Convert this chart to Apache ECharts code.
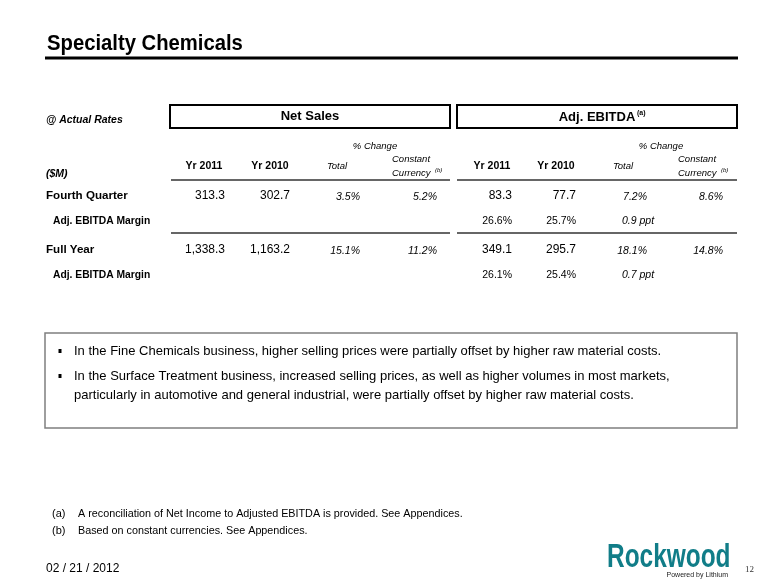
<!DOCTYPE html>
<html>
<head>
<meta charset="utf-8">
<script src="https://cdn.jsdelivr.net/npm/echarts@6/dist/echarts.min.js"></script>
<style>
  html, body { margin: 0; padding: 0; background: #fff; }
  #main { width: 780px; height: 585px; }
</style>
</head>
<body>
<div id="main"></div>
<script>
// table data
const rowLabels = ['Fourth Quarter', 'Adj. EBITDA Margin', 'Full Year', 'Adj. EBITDA Margin'];
const salesYr2011 = [313.3, 1338.3];
const salesYr2010 = [302.7, 1163.2];
const salesTotalPct = [3.5, 15.1];
const salesConstPct = [5.2, 11.2];
const ebitdaYr2011 = [83.3, 349.1];
const ebitdaYr2010 = [77.7, 295.7];
const ebitdaTotalPct = [7.2, 18.1];
const ebitdaConstPct = [8.6, 14.8];
const marginYr2011 = [26.6, 26.1];
const marginYr2010 = [25.7, 25.4];
const marginChangePpt = [0.9, 0.7];

const bullets = [
  ['In the Fine Chemicals business, higher selling prices were partially offset by higher raw material costs.'],
  ['In the Surface Treatment business, increased selling prices, as well as higher volumes in most markets,',
   'particularly in automotive and general industrial, were partially offset by higher raw material costs.']
];
const footnotes = [
  ['(a)', 'A reconciliation of Net Income to Adjusted EBITDA is provided. See Appendices.'],
  ['(b)', 'Based on constant currencies. See Appendices.']
];

const FF = '"Liberation Sans", Arial, sans-serif';
const fmt = v => v.toLocaleString('en-US', { minimumFractionDigits: 1, maximumFractionDigits: 1 });

function txt(x, y, text, font, align, color) {
  return {
    type: 'text', x: x, y: y, silent: true,
    style: {
      text: text, font: font, fill: color || '#000',
      align: align || 'left', textAlign: align || 'left',
      verticalAlign: 'middle', textVerticalAlign: 'middle'
    }
  };
}
function line(x1, y1, x2, y2, w, c) {
  return { type: 'line', silent: true, shape: { x1, y1, x2, y2 }, style: { stroke: c || '#000', lineWidth: w } };
}

const els = [];

// title
const title = txt(47, 44, 'Specialty Chemicals', 'bold 22.5px ' + FF);
title.scaleX = 0.9;
els.push(title);
els.push(line(45, 58, 738, 58, 3, '#000'));

// header boxes
els.push(txt(46, 120, '@ Actual Rates', 'italic bold 10.5px ' + FF));
els.push({ type: 'rect', shape: { x: 170, y: 105, width: 280, height: 23 }, style: { fill: 'none', stroke: '#000', lineWidth: 2 } });
els.push({ type: 'rect', shape: { x: 457, y: 105, width: 280, height: 23 }, style: { fill: 'none', stroke: '#000', lineWidth: 2 } });
els.push(txt(310, 116, 'Net Sales', 'bold 13px ' + FF, 'center'));
els.push(txt(597, 117, 'Adj. EBITDA', 'bold 13px ' + FF, 'center'));
els.push(txt(637, 113, '(a)', 'bold 7px ' + FF));

// column headers
const colSets = [
  { yr1: 204, yr2: 270, tot: 337, cc: 392, chg: 375, v1: 225, v2: 290, v3: 360, v4: 437, x0: 171, x1: 450 },
  { yr1: 492, yr2: 556, tot: 623, cc: 678, chg: 661, v1: 512, v2: 576, v3: 647, v4: 723, x0: 457, x1: 737 }
];
colSets.forEach(c => {
  els.push(txt(c.chg, 146, '% Change', 'italic 9.5px ' + FF, 'center'));
  els.push(txt(c.yr1, 166, 'Yr 2011', 'bold 10.5px ' + FF, 'center'));
  els.push(txt(c.yr2, 166, 'Yr 2010', 'bold 10.5px ' + FF, 'center'));
  els.push(txt(c.tot, 166, 'Total', 'italic 9.5px ' + FF, 'center'));
  els.push(txt(c.cc, 159, 'Constant', 'italic 9.5px ' + FF));
  els.push(txt(c.cc, 173, 'Currency', 'italic 9.5px ' + FF));
  els.push(txt(c.cc + 43, 170, '(b)', 'italic 6px ' + FF));
  els.push(line(c.x0, 180, c.x1, 180, 1.5, '#333'));
  els.push(line(c.x0, 233, c.x1, 233, 1.5, '#333'));
});
els.push(txt(46, 174, '($M)', 'italic bold 10.5px ' + FF));

// rows
const rowY = [196, 221, 250, 275];
rowLabels.forEach((lab, i) => {
  const main = i % 2 === 0;
  els.push(txt(main ? 46 : 53, rowY[i], lab, (main ? 'bold 11.6px ' : 'bold 10.3px ') + FF));
});
const S = colSets[0], E = colSets[1];
[0, 1].forEach(k => {
  const y = rowY[k * 2], ym = rowY[k * 2 + 1];
  els.push(txt(S.v1, y, fmt(salesYr2011[k]), '12px ' + FF, 'right'));
  els.push(txt(S.v2, y, fmt(salesYr2010[k]), '12px ' + FF, 'right'));
  els.push(txt(S.v3, y + 1, fmt(salesTotalPct[k]) + '%', 'italic 10.5px ' + FF, 'right'));
  els.push(txt(S.v4, y + 1, fmt(salesConstPct[k]) + '%', 'italic 10.5px ' + FF, 'right'));
  els.push(txt(E.v1, y, fmt(ebitdaYr2011[k]), '12px ' + FF, 'right'));
  els.push(txt(E.v2, y, fmt(ebitdaYr2010[k]), '12px ' + FF, 'right'));
  els.push(txt(E.v3, y + 1, fmt(ebitdaTotalPct[k]) + '%', 'italic 10.5px ' + FF, 'right'));
  els.push(txt(E.v4, y + 1, fmt(ebitdaConstPct[k]) + '%', 'italic 10.5px ' + FF, 'right'));
  els.push(txt(E.v1, ym, fmt(marginYr2011[k]) + '%', '10.5px ' + FF, 'right'));
  els.push(txt(E.v2, ym, fmt(marginYr2010[k]) + '%', '10.5px ' + FF, 'right'));
  els.push(txt(622, ym, fmt(marginChangePpt[k]) + ' ppt', 'italic 10.5px ' + FF));
});

// bullet box
els.push({ type: 'rect', shape: { x: 45, y: 333, width: 692, height: 95 }, style: { fill: 'none', stroke: '#7f7f7f', lineWidth: 1.5 } });
let by = 351;
bullets.forEach(b => {
  els.push({ type: 'rect', shape: { x: 58.5, y: by - 2, width: 3, height: 4 }, style: { fill: '#000' } });
  b.forEach(l => {
    els.push(txt(74, by, l, '13px ' + FF));
    by += 19;
  });
  by += 6;
});

// footnotes
footnotes.forEach((f, i) => {
  els.push(txt(52, 514 + i * 17, f[0], '11px ' + FF));
  const t = txt(78, 514 + i * 17, f[1], '11px ' + FF);
  t.scaleX = 0.98;
  els.push(t);
});

// footer
els.push(txt(46, 569, '02 / 21 / 2012', '12px ' + FF));
els.push({ type: 'text', x: 607, y: 558, scaleX: 0.74, silent: true,
  style: { text: 'Rockwood', font: 'bold 33px ' + FF, fill: '#117d88', align: 'left', textAlign: 'left', verticalAlign: 'middle', textVerticalAlign: 'middle' } });
els.push(txt(728, 575, 'Powered by Lithium', '7px ' + FF, 'right', '#222'));
els.push(txt(745, 570, '12', '9px "Liberation Serif", serif', 'left', '#333'));

const chart = echarts.init(document.getElementById('main'), null, { renderer: 'canvas' });
chart.setOption({
  backgroundColor: '#fff',
  animation: false,
  graphic: { elements: els }
});
</script>
</body>
</html>
